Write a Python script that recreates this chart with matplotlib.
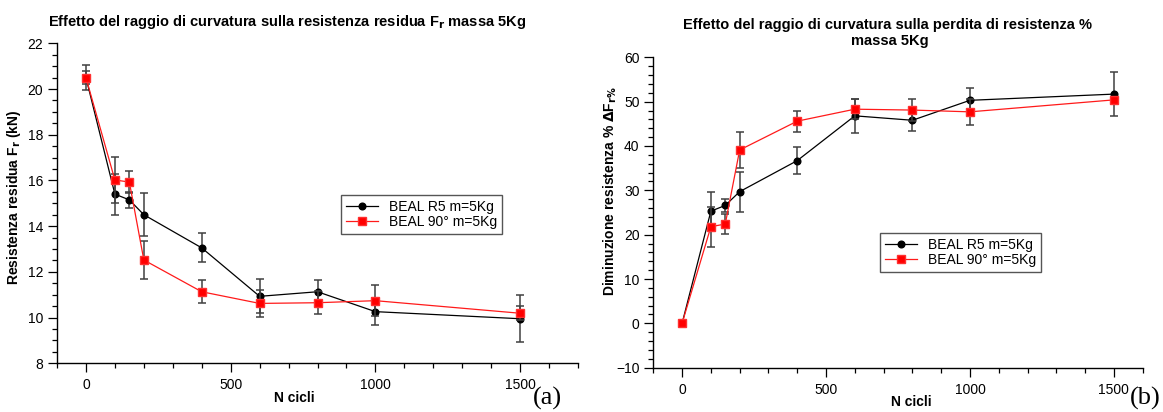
import numpy as np
import matplotlib
matplotlib.use('Agg')
import matplotlib.pyplot as plt
from matplotlib.lines import Line2D
from matplotlib.ticker import MultipleLocator

plt.rcParams['font.family'] = ['Liberation Sans', 'DejaVu Sans']

# N cicli
cicli = [0, 100, 150, 200, 400, 600, 800, 1000, 1500]

# (a) resistenza residua Fr (kN)
a_r5 = [20.5, 15.4, 15.15, 14.5, 13.05, 10.93, 11.13, 10.26, 9.95]
a_r5_err = [0.55, 0.9, 0.35, 0.95, 0.63, 0.75, 0.5, 0.6, 1.03]
a_90 = [20.5, 16.02, 15.93, 12.52, 11.13, 10.62, 10.65, 10.74, 10.19]
a_90_err = [0.3, 1.0, 0.5, 0.85, 0.5, 0.6, 0.5, 0.68, 0.3]

# (b) perdita di resistenza %
b_r5 = [0, 25.3, 26.6, 29.7, 36.7, 46.8, 45.8, 50.3, 51.7]
b_r5_err = [0, 4.3, 1.5, 4.5, 3.0, 3.9, 2.4, 2.8, 5.0]
b_90 = [0, 21.8, 22.4, 39.1, 45.6, 48.3, 48.1, 47.7, 50.4]
b_90_err = [0, 4.5, 2.3, 4.0, 2.4, 2.2, 2.5, 3.0, 0.5]

lbl_r5 = 'BEAL R5 m=5Kg'
lbl_90 = 'BEAL 90° m=5Kg'

W, H = 1163, 412
fig = plt.figure(figsize=(W/100, H/100), dpi=100)

def px_axes(x0, y0, x1, y1):
    return fig.add_axes([x0/W, 1 - y1/H, (x1 - x0)/W, (y1 - y0)/H])

ax1 = px_axes(57, 43.3, 578, 363.3)
ax2 = px_axes(653.3, 57.3, 1142.7, 367.7)

ecol = '#404040'
red = '#ff1a1a'
st_r5 = dict(color='black', lw=0.9, marker='o', ms=4.8)
st_90 = dict(color=red, lw=0.9, marker='s', ms=6, mfc='#ff0000', mec='#ff3030')

def draw(ax, y1, e1, y2, e2):
    ax.errorbar(cicli, y1, yerr=e1, ecolor=ecol, elinewidth=1.1, capsize=3,
                capthick=1.1, zorder=3, **st_r5)
    ax.errorbar(cicli, y2, yerr=e2, ecolor=ecol, elinewidth=1.1, capsize=3,
                capthick=1.1, zorder=4, **st_90)
    for s in ['top', 'right']:
        ax.spines[s].set_visible(False)
    for s in ['left', 'bottom']:
        ax.spines[s].set_linewidth(1.0)
    ax.tick_params(direction='out', labelsize=10, width=0.9)
    ax.tick_params(which='major', length=6.5)
    ax.tick_params(which='minor', length=3.6, width=0.9)
    ax.tick_params(axis='x', pad=4.3)
    ax.tick_params(axis='y', pad=3.4)
    ax.xaxis.set_major_locator(MultipleLocator(500))
    ax.xaxis.set_minor_locator(MultipleLocator(100))

def add_legend(ax, anchor):
    handles = [Line2D([], [], **st_r5), Line2D([], [], **st_90)]
    leg = ax.legend(handles, [lbl_r5, lbl_90], loc='upper left',
                    bbox_to_anchor=anchor, borderaxespad=0, fontsize=10,
                    handlelength=2.3, fancybox=False, edgecolor='#555555',
                    framealpha=1, borderpad=0.35, labelspacing=0.1,
                    handletextpad=0.8)
    leg.get_frame().set_linewidth(1.0)

draw(ax1, a_r5, a_r5_err, a_90, a_90_err)
ax1.set_xlim(-100, 1700)
ax1.set_ylim(8, 22)
ax1.yaxis.set_major_locator(MultipleLocator(2))
ax1.yaxis.set_minor_locator(MultipleLocator(0.5))
ax1.set_ylabel(r'Resistenza residua F$_\mathbf{r}$ (kN)', fontsize=10, fontweight='bold')
ax1.yaxis.set_label_coords(-0.065, 0.52)
ax1.set_xlabel('N cicli', fontsize=10, fontweight='bold')
ax1.xaxis.set_label_coords(0.456, -0.087)
add_legend(ax1, (0.545, 0.526))

draw(ax2, b_r5, b_r5_err, b_90, b_90_err)
ax2.set_xlim(-100, 1600)
ax2.set_ylim(-10, 60)
ax2.yaxis.set_major_locator(MultipleLocator(10))
ax2.yaxis.set_minor_locator(MultipleLocator(2))
ax2.set_ylabel(r'Diminuzione resistenza % $\mathbf{\Delta}$F$_{\mathbf{r\%}}$', fontsize=10,
               fontweight='bold')
ax2.yaxis.set_label_coords(-0.070, 0.57)
ax2.set_xlabel('N cicli', fontsize=10, fontweight='bold')
ax2.xaxis.set_label_coords(0.528, -0.088)
add_legend(ax2, (0.463, 0.435))

fig.text(287.5/W, 1 - 22/H, r'Effetto del raggio di curvatura sulla resistenza residua F$_\mathbf{r}$ massa 5Kg',
         ha='center', va='center', fontsize=10.5, fontweight='bold')
fig.text(887.5/W, 1 - 24.5/H, 'Effetto del raggio di curvatura sulla perdita di resistenza %',
         ha='center', va='center', fontsize=10.5, fontweight='bold')
fig.text(889.5/W, 1 - 40.5/H, 'massa 5Kg',
         ha='center', va='center', fontsize=10.5, fontweight='bold')

fig.text(547/W, 1 - 398/H, '(a)', ha='center', va='center', fontsize=19,
         family='Liberation Serif')
fig.text(1145/W, 1 - 398/H, '(b)', ha='center', va='center', fontsize=19,
         family='Liberation Serif')

fig.savefig('out.png', dpi=100)
